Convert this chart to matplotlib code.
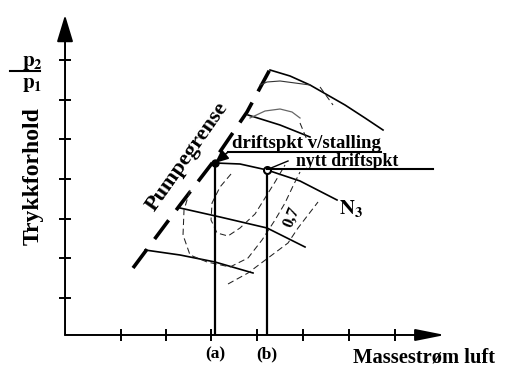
"""
Compressor map sketch: surge line, speed lines and operating points
"""

import matplotlib
matplotlib.use('Agg')
import matplotlib.pyplot as plt

plt.rcParams['font.family'] = ['Liberation Serif', 'DejaVu Serif']
plt.rcParams['font.weight'] = 'bold'
plt.rcParams['mathtext.fontset'] = 'stix'

# axis ticks (mass flow, pressure ratio; arbitrary units)
x_ticks = [5.6, 10.1, 14.6, 19.2, 23.8, 28.4, 33.0]
y_ticks = [3.7, 7.7, 11.6, 15.6, 19.6, 23.5, 27.5]

# surge line (Pumpegrense)
surge_x = [6.8, 11.5, 14.8, 18.2, 21.0]
surge_y = [6.7, 13.0, 17.3, 22.3, 27.5]

# constant speed lines, top to bottom
speed_lines = [
    ([20.5, 22.5, 24.5, 28.0, 30.0, 31.8], [26.5, 25.9, 25.0, 23.0, 21.7, 20.5]),
    ([18.3, 21.5, 24.5], [22.0, 21.0, 19.8]),
    ([15.0, 17.5, 20.2, 23.5, 27.2], [17.2, 17.1, 16.5, 15.4, 13.5]),
    ([11.5, 15.5, 20.2, 24.0], [12.7, 11.8, 10.7, 8.8]),
    ([8.0, 11.5, 15.0, 18.8], [8.5, 8.0, 7.3, 6.2]),
]

# efficiency contours (dashed)
contours = [
    ([16.6, 15.5, 14.7, 14.6, 15.2, 16.3, 17.5, 19.0, 20.0, 21.0, 22.0],
     [16.1, 14.8, 13.2, 11.5, 10.2, 9.9, 10.7, 12.1, 13.7, 15.3, 17.0]),
    ([12.5, 11.9, 11.8, 12.5, 14.2, 16.5, 18.3, 19.7, 21.0, 22.0, 22.8, 23.5],
     [14.5, 12.5, 10.0, 8.0, 7.3, 6.8, 7.7, 9.5, 11.5, 13.2, 14.9, 16.3]),
    ([16.3, 18.3, 20.3, 22.3, 23.3, 24.3, 25.3],
     [5.1, 6.2, 7.7, 9.2, 10.7, 12.0, 13.3]),
    ([23.5, 24.2], [21.2, 19.5]),
    ([25.5, 26.8], [24.8, 23.0]),
]
top_arc_x = [18.5, 20.0, 21.5, 22.7, 23.5]
top_arc_y = [21.7, 22.4, 22.6, 22.3, 21.7]
inner_top_x = [19.5, 20.2, 21.5, 24.5]
inner_top_y = [25.0, 25.3, 25.4, 25.0]

# operating points: (a) at stall, (b) new point
stall_pt = (15.0, 17.2)
new_pt = (20.2, 16.5)
point_labels = ['(a)', '(b)']


fig = plt.figure(figsize=(5.06, 3.73), dpi=100, facecolor='white')
ax = fig.add_axes([0.1285, 0.1019, 0.7905, 0.8847])
ax.set_xlim(0, 40)
ax.set_ylim(0, 33)
for side in ax.spines.values():
    side.set_visible(False)

# axes with arrow heads
ax.annotate('', xy=(0, 32.0), xytext=(0, 0),
            arrowprops=dict(arrowstyle='-|>,head_length=1.65,head_width=0.5',
                            lw=1.4, color='black', shrinkA=0, shrinkB=0,
                            mutation_scale=10), annotation_clip=False)
ax.annotate('', xy=(38.0, 0), xytext=(0, 0),
            arrowprops=dict(arrowstyle='-|>,head_length=1.8,head_width=0.36',
                            lw=1.4, color='black', shrinkA=0, shrinkB=0,
                            mutation_scale=10), annotation_clip=False)

ax.set_xticks(x_ticks)
ax.set_yticks(y_ticks)
ax.set_xticklabels([])
ax.set_yticklabels([])
ax.tick_params(direction='inout', length=8, width=1.4, color='black')

# surge line
ax.plot(surge_x, surge_y, color='black', lw=2.6, dashes=(6.5, 3.5))

for xs, ys in speed_lines:
    ax.plot(xs, ys, color='black', lw=1.2)
ax.plot(inner_top_x, inner_top_y, color='#333333', lw=0.8)
ax.plot(top_arc_x, top_arc_y, color='#666666', lw=0.9)

for xs, ys in contours:
    ax.plot(xs, ys, color='#222222', lw=0.75, dashes=(6, 3.5))

# vertical lines down to the mass flow axis
for (px, py), lab in zip([stall_pt, new_pt], point_labels):
    ax.plot([px, px], [0, py], color='black', lw=1.6)
    ax.text(px, -1.9, lab, ha='center', va='center', fontsize=12.5)

# operating points
ax.plot(*stall_pt, marker='o', ms=5, color='black')
ax.plot(*new_pt, marker='o', ms=5, mfc='white', mec='black', mew=1.5)

# annotations
ax.plot([16.3, 31.6], [18.3, 18.3], color='black', lw=1.5)
ax.annotate('', xy=stall_pt, xytext=(16.3, 18.3),
            arrowprops=dict(arrowstyle='-|>,head_length=0.8,head_width=0.35',
                            lw=1.2, color='black', shrinkA=0, shrinkB=0,
                            mutation_scale=10))
ax.text(16.7, 18.65, 'driftspkt v/stalling', fontsize=13.5, va='baseline')

ax.plot([new_pt[0], 36.8], [16.6, 16.6], color='black', lw=1.5)
ax.plot([20.6, 22.3], [16.7, 17.4], color='black', lw=1.0)
ax.text(23.1, 16.9, 'nytt driftspkt', fontsize=12.8, va='baseline')

ax.text(28.6, 12.6, r'$\mathbf{N_3}$', fontsize=15, ha='center', va='center')
ax.text(22.7, 11.8, '0,7', fontsize=12, rotation=68, ha='center', va='center')
ax.text(12.2, 17.8, 'Pumpegrense', fontsize=16, rotation=55,
        ha='center', va='center', rotation_mode='anchor')

# axis titles
ax.text(35.9, -2.3, 'Massestrøm luft', fontsize=14.8, ha='center', va='center',
        clip_on=False)
ax.text(-3.2, 15.9, 'Trykkforhold', fontsize=17, rotation=90,
        ha='center', va='center', clip_on=False)
ax.text(-3.3, 27.3, r'$\mathbf{p}_\mathbf{2}$', fontsize=15, ha='center',
        va='center')
ax.text(-3.3, 25.1, r'$\mathbf{p}_\mathbf{1}$', fontsize=15, ha='center',
        va='center')
ax.plot([-5.5, -2.5], [26.4, 26.4], color='black', lw=1.5, clip_on=False)

fig.savefig('out.png', dpi=100)
